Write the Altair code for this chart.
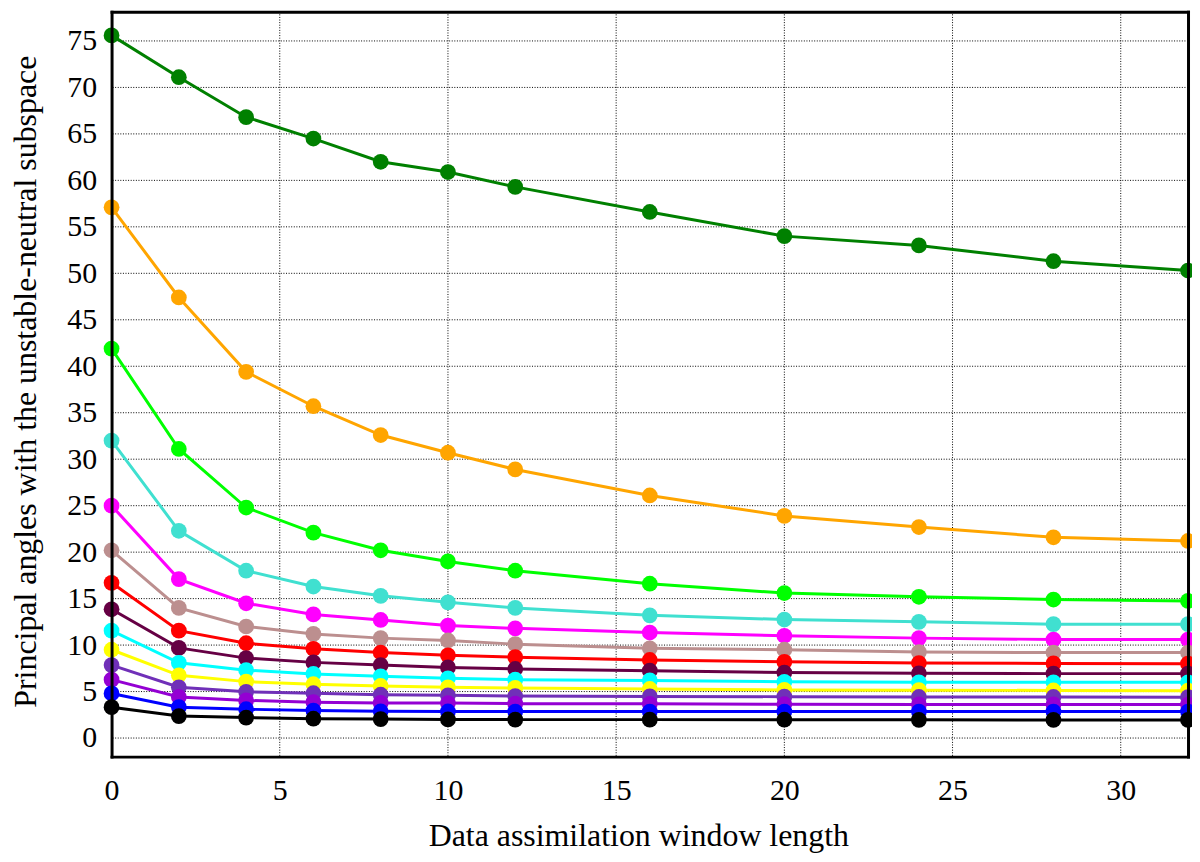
import altair as alt
import pandas as pd

# ---------------- data ----------------
x_vals = [0, 2, 4, 6, 8, 10, 12, 16, 20, 24, 28, 32]

series_names = [
    "s01", "s02", "s03", "s04", "s05", "s06", "s07",
    "s08", "s09", "s10", "s11", "s12", "s13", "s14",
]
series_colors = [
    "#008000", "#FFA500", "#00FF00", "#40E0D0", "#FF00FF", "#BC8F8F", "#FF0000",
    "#660044", "#00FFFF", "#FFFF00", "#7030B8", "#9400D3", "#0000FF", "#000000",
]

s01 = [75.6, 71.1, 66.8, 64.5, 62.0, 60.9, 59.3, 56.6, 54.0, 53.0, 51.3, 50.3]
s02 = [57.1, 47.4, 39.4, 35.7, 32.6, 30.7, 28.9, 26.1, 23.9, 22.7, 21.6, 21.2]
s03 = [41.9, 31.1, 24.8, 22.1, 20.2, 19.0, 18.0, 16.6, 15.6, 15.2, 14.9, 14.75]
s04 = [32.0, 22.3, 18.0, 16.3, 15.3, 14.6, 14.0, 13.2, 12.75, 12.5, 12.25, 12.25]
s05 = [25.0, 17.1, 14.5, 13.3, 12.7, 12.1, 11.8, 11.35, 11.0, 10.75, 10.6, 10.6]
s06 = [20.2, 14.0, 12.0, 11.2, 10.75, 10.5, 10.1, 9.65, 9.5, 9.25, 9.2, 9.2]
s07 = [16.7, 11.55, 10.2, 9.6, 9.2, 8.9, 8.7, 8.4, 8.2, 8.07, 8.03, 8.0]
s08 = [13.85, 9.7, 8.6, 8.14, 7.85, 7.6, 7.43, 7.25, 7.05, 6.96, 6.93, 6.93]
s09 = [11.55, 8.1, 7.3, 6.9, 6.64, 6.43, 6.28, 6.2, 6.05, 6.0, 6.0, 6.0]
s10 = [9.5, 6.75, 6.07, 5.79, 5.6, 5.46, 5.39, 5.28, 5.18, 5.15, 5.12, 5.1]
s11 = [7.85, 5.46, 4.97, 4.82, 4.66, 4.6, 4.52, 4.48, 4.45, 4.42, 4.42, 4.4]
s12 = [6.28, 4.42, 4.05, 3.86, 3.78, 3.76, 3.7, 3.68, 3.64, 3.62, 3.62, 3.6]
s13 = [4.8, 3.32, 3.1, 2.96, 2.88, 2.86, 2.85, 2.85, 2.85, 2.85, 2.85, 2.85]
s14 = [3.32, 2.36, 2.2, 2.08, 2.04, 2.0, 1.98, 1.98, 1.97, 1.96, 1.95, 1.95]

series_values = [s01, s02, s03, s04, s05, s06, s07, s08, s09, s10, s11, s12, s13, s14]

x_ticks = [0, 5, 10, 15, 20, 25, 30]
y_ticks = [0, 5, 10, 15, 20, 25, 30, 35, 40, 45, 50, 55, 60, 65, 70, 75]

x_title = "Data assimilation window length"
y_title = "Principal angles with the unstable-neutral subspace"

rows = []
for name, vals in zip(series_names, series_values):
    for xv, yv in zip(x_vals, vals):
        rows.append({"series": name, "x": xv, "y": yv})
df = pd.DataFrame(rows)

FONT = "Liberation Serif"
xs = alt.Scale(domain=[0, 32], nice=False, zero=False)
ys = alt.Scale(domain=[-2.0, 78.14], nice=False, zero=False)
cs = alt.Scale(domain=series_names, range=series_colors)

x_axis = alt.Axis(
    values=x_ticks, format="d", grid=False, ticks=False, tickSize=0,
    domain=True, domainColor="black", domainWidth=3, domainCap="square",
    labelFont=FONT, labelFontSize=30, labelColor="black", labelPadding=19,
    labelFlush=False, labelOverlap=False,
    title=x_title, titleFont=FONT, titleFontSize=32, titleFontWeight="normal",
    titleColor="black", titleX=529, titleY=89, titleBaseline="alphabetic",
    titleAlign="center", zindex=1,
)
y_axis = alt.Axis(
    values=y_ticks, format="d", grid=False, ticks=False, tickSize=0,
    domain=True, domainColor="black", domainWidth=3, domainCap="square",
    labelFont=FONT, labelFontSize=30, labelColor="black", labelPadding=15,
    labelFlush=False, labelOverlap=False,
    title=y_title, titleFont=FONT, titleFontSize=32, titleFontWeight="normal",
    titleColor="black", titleX=-76, titleY=371, titleAngle=270,
    titleBaseline="alphabetic", titleAlign="center", zindex=1,
)

X = alt.X("x:Q", scale=xs, axis=x_axis, title=x_title)
Y = alt.Y("y:Q", scale=ys, axis=y_axis, title=y_title)

# grid lines (dotted) from tick values
grid_x = alt.Chart(pd.DataFrame({"x": x_ticks})).mark_rule(
    color="black", strokeWidth=1, strokeDash=[1, 1.6], opacity=1
).encode(x=X)

grid_y = alt.Chart(pd.DataFrame({"y": y_ticks})).mark_rule(
    color="black", strokeWidth=1, strokeDash=[1, 1.6], opacity=1
).encode(y=Y)

lines = alt.Chart(df).mark_line(strokeWidth=3).encode(
    x=X, y=Y,
    color=alt.Color("series:N", scale=cs, legend=None),
    detail="series:N",
)

points = alt.Chart(df).mark_point(filled=True, size=250, opacity=1).encode(
    x=X, y=Y,
    color=alt.Color("series:N", scale=cs, legend=None),
)

main = alt.layer(grid_x, grid_y, lines, points)

frame_axis_x = alt.Axis(
    orient="top", labels=False, ticks=False, tickSize=0, grid=False, title=None,
    domain=True, domainColor="black", domainWidth=3, domainCap="square", zindex=1,
)
frame_axis_y = alt.Axis(
    orient="right", labels=False, ticks=False, tickSize=0, grid=False, title=None,
    domain=True, domainColor="black", domainWidth=3, domainCap="square", zindex=1,
)
frame = alt.Chart(df).mark_point(opacity=0).encode(
    x=alt.X("x:Q", scale=xs, axis=frame_axis_x),
    y=alt.Y("y:Q", scale=ys, axis=frame_axis_y),
)

chart = alt.layer(main, frame).resolve_axis(
    x="independent", y="independent"
).properties(
    width=1081,
    height=748,
    padding={"left": 104, "top": 2, "right": 4, "bottom": 95},
    autosize=alt.AutoSizeParams(type="none"),
).configure_view(
    strokeWidth=0
).configure(
    background="white"
)

chart.save("out.html", embed_options={"renderer": "svg", "actions": False})
